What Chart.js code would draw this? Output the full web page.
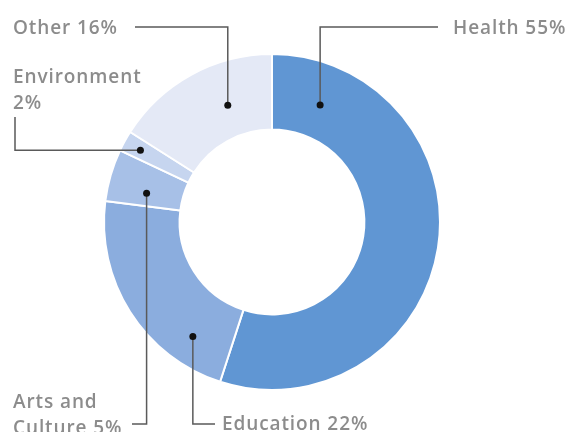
<!DOCTYPE html>
<html lang="en">
<head>
    <meta charset="UTF-8">
    <title>Donation areas</title>
    <script src="https://cdn.jsdelivr.net/npm/chart.js"></script>
    <style>
        body {
            margin: 0;
            padding: 0;
            background: #fff;
        }
        .chart-container {
            position: relative;
            width: 571px;
            height: 432px;
        }
    </style>
</head>
<body>
    <div class="chart-container">
        <canvas id="shareChart"></canvas>
    </div>

    <script>
        // Data
        const categories = ['Health', 'Education', 'Arts and Culture', 'Environment', 'Other'];
        const shares = [55, 22, 5, 2, 16];
        const sliceColors = ['#6096d3', '#8badde', '#a7c0e7', '#c6d5ef', '#e4e9f6'];

        // Callout layout: where the dot sits inside its slice (along the slice, across the ring),
        // how the leader runs and where the text goes
        const callouts = [
            { frac: 0.113, depth: 0.45, leader: 'up', elbowY: 27, endX: 438, textX: 453, textY: 34, wrap: 0 },
            { frac: 0.21, depth: 0.62, leader: 'down', elbowY: 424, endX: 215, textX: 222, textY: 430, wrap: 0 },
            { frac: 0.32, depth: 0.48, leader: 'down', elbowY: 424, endX: 132, textX: 13, textY: 408, wrap: 2 },
            { frac: 0.47, depth: 0.76, leader: 'left', elbowX: 15, endY: 117, textX: 13, textY: 83, wrap: 1 },
            { frac: 0.64, depth: 0.43, leader: 'up', elbowY: 27, endX: 135, textX: 13, textY: 34, wrap: 0 }
        ];

        const calloutPlugin = {
            id: 'callouts',
            afterDatasetsDraw(chart) {
                const ctx = chart.ctx;
                const arcs = chart.getDatasetMeta(0).data;
                ctx.save();
                arcs.forEach((arc, i) => {
                    const c = callouts[i];
                    const p = arc.getProps(['x', 'y', 'startAngle', 'endAngle', 'innerRadius', 'outerRadius'], true);
                    const a = p.startAngle + c.frac * (p.endAngle - p.startAngle);
                    const r = p.innerRadius + c.depth * (p.outerRadius - p.innerRadius);
                    const dx = p.x + Math.cos(a) * r;
                    const dy = p.y + Math.sin(a) * r;

                    // leader line
                    ctx.strokeStyle = '#5a5a5a';
                    ctx.lineWidth = 1.5;
                    ctx.beginPath();
                    ctx.moveTo(dx, dy);
                    if (c.leader === 'left') {
                        ctx.lineTo(c.elbowX, dy);
                        ctx.lineTo(c.elbowX, c.endY);
                    } else {
                        ctx.lineTo(dx, c.elbowY);
                        ctx.lineTo(c.endX, c.elbowY);
                    }
                    ctx.stroke();

                    // dot
                    ctx.fillStyle = '#111';
                    ctx.beginPath();
                    ctx.arc(dx, dy, 3.5, 0, Math.PI * 2);
                    ctx.fill();

                    // label text
                    const words = (categories[i] + ' ' + shares[i] + '%').split(' ');
                    const lines = c.wrap ? [words.slice(0, c.wrap).join(' '), words.slice(c.wrap).join(' ')] : [words.join(' ')];
                    ctx.fillStyle = '#8c8c8c';
                    ctx.font = '600 19px "Open Sans", sans-serif';
                    ctx.letterSpacing = '0.9px';
                    ctx.textAlign = 'left';
                    ctx.textBaseline = 'alphabetic';
                    lines.forEach((line, k) => {
                        ctx.fillText(line, c.textX, c.textY + k * 26);
                    });
                });
                ctx.restore();
            }
        };

        const ctx = document.getElementById('shareChart').getContext('2d');
        new Chart(ctx, {
            type: 'doughnut',
            data: {
                labels: categories,
                datasets: [{
                    data: shares,
                    backgroundColor: sliceColors,
                    borderColor: '#ffffff',
                    borderWidth: 2
                }]
            },
            options: {
                responsive: true,
                maintainAspectRatio: false,
                animation: false,
                cutout: '55%',
                layout: {
                    padding: { left: 103, right: 130, top: 53, bottom: 41 }
                },
                plugins: {
                    legend: { display: false },
                    tooltip: { enabled: false }
                }
            },
            plugins: [calloutPlugin]
        });
    </script>
</body>
</html>
